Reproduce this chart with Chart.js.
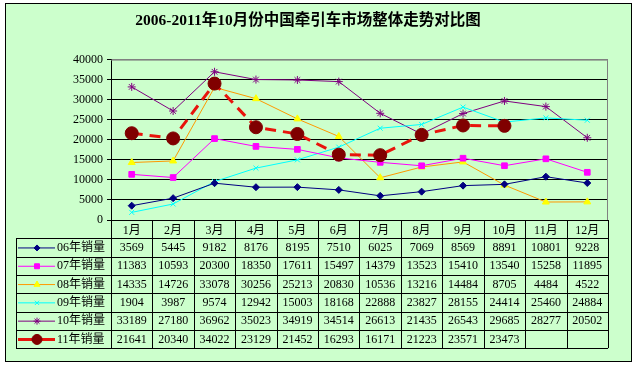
<!DOCTYPE html>
<html>
<head>
<meta charset="utf-8">
<script src="https://cdn.jsdelivr.net/npm/chart.js@4.4.0/dist/chart.umd.min.js"></script>
<style>
  html, body { margin: 0; padding: 0; background: #fff; }
  canvas { display: block; }
</style>
</head>
<body>
<canvas id="salesChart" width="639" height="369"></canvas>
<script>
// ---- данные ----
const months = ['1月', '2月', '3月', '4月', '5月', '6月', '7月', '8月', '9月', '10月', '11月', '12月'];
const seriesNames = ['06年销量', '07年销量', '08年销量', '09年销量', '10年销量', '11年销量'];
const sales06 = [3569, 5445, 9182, 8176, 8195, 7510, 6025, 7069, 8569, 8891, 10801, 9228];
const sales07 = [11383, 10593, 20300, 18350, 17611, 15497, 14379, 13523, 15410, 13540, 15258, 11895];
const sales08 = [14335, 14726, 33078, 30256, 25213, 20830, 10536, 13216, 14484, 8705, 4484, 4522];
const sales09 = [1904, 3987, 9574, 12942, 15003, 18168, 22888, 23827, 28155, 24414, 25460, 24884];
const sales10 = [33189, 27180, 36962, 35023, 34919, 34514, 26613, 21435, 26543, 29685, 28277, 20502];
const sales11 = [21641, 20340, 34022, 23129, 21452, 16293, 16171, 21223, 23571, 23473, null, null];
const yTicks = [0, 5000, 10000, 15000, 20000, 25000, 30000, 35000, 40000];

const TXT_FONT = '12px "Liberation Serif", "Noto Sans CJK SC", serif';

// стили серий
const styles = [
  { line: '#000080', fill: '#000080', point: 'rectRot', r: 3.5, w: 1 },
  { line: '#FF00FF', fill: '#FF00FF', point: 'rect', r: 4, w: 1 },
  { line: '#FF9900', fill: '#FFFF00', point: 'triangle', r: 4, w: 1 },
  { line: '#00FFFF', fill: '#00FFFF', point: 'crossRot', r: 3.5, w: 1 },
  { line: '#800080', fill: '#800080', point: 'star', r: 4, w: 1 },
  { line: '#E8140C', fill: '#800000', point: 'circle', r: 6.5, w: 3, dash: [11, 7] }
];
const allSeries = [sales06, sales07, sales08, sales09, sales10, sales11];

// фон и рамка
const framePlugin = {
  id: 'frame',
  beforeDraw(chart) {
    const c = chart.ctx;
    c.save();
    c.fillStyle = '#ffffff';
    c.fillRect(0, 0, chart.width, chart.height);
    c.fillStyle = '#CCFFCC';
    c.fillRect(5, 3, 627, 359);
    c.strokeStyle = '#000';
    c.lineWidth = 1;
    c.strokeRect(5.5, 3.5, 626, 358);
    c.restore();
  },
  afterDatasetsDraw(chart) {
    // серая рамка области графика сверху/справа
    const a = chart.chartArea, c = chart.ctx;
    c.save();
    c.strokeStyle = '#808080';
    c.lineWidth = 1;
    c.beginPath();
    c.moveTo(a.left, a.top + 0.5);
    c.lineTo(a.right - 0.5, a.top + 0.5);
    c.lineTo(a.right - 0.5, a.bottom);
    c.stroke();
    c.restore();
  }
};

// таблица данных под графиком
const tablePlugin = {
  id: 'dataTable',
  afterDraw(chart) {
    const c = chart.ctx, x = chart.scales.x, a = chart.chartArea;
    const colW = x.getPixelForValue(1) - x.getPixelForValue(0);
    const top = a.bottom, rowH = 18.3;
    const bottom = top + rowH * 7;
    const keyLeft = 16;
    c.save();
    c.strokeStyle = '#000';
    c.lineWidth = 1;
    c.beginPath();
    // вертикальные линии
    for (let i = 0; i <= months.length; i++) {
      const px = Math.round(x.getPixelForValue(0) - colW / 2 + i * colW) + 0.5;
      c.moveTo(px, top);
      c.lineTo(px, bottom);
    }
    c.moveTo(keyLeft + 0.5, top + rowH);
    c.lineTo(keyLeft + 0.5, bottom);
    // горизонтальные линии
    for (let r = 1; r <= 7; r++) {
      const py = Math.round(top + r * rowH) + 0.5;
      c.moveTo(keyLeft, py);
      c.lineTo(a.right, py);
    }
    c.stroke();

    c.font = TXT_FONT;
    c.fillStyle = '#000';
    c.textBaseline = 'middle';
    allSeries.forEach((vals, s) => {
      const cy = top + (s + 1.5) * rowH + 0.5;
      const st = styles[s];
      // ключ легенды
      c.save();
      c.strokeStyle = st.line;
      c.lineWidth = st.w;
      c.beginPath();
      c.moveTo(18, cy);
      c.lineTo(55, cy);
      c.stroke();
      c.fillStyle = st.fill;
      c.strokeStyle = st.fill;
      c.lineWidth = 1;
      Chart.helpers.drawPoint(c, { pointStyle: st.point, radius: s === 5 ? 5 : st.r - 0.5, rotation: 0, borderWidth: 1 }, 37, cy);
      c.restore();
      c.textAlign = 'left';
      c.fillText(seriesNames[s], 57, cy);
      c.textAlign = 'center';
      vals.forEach((v, i) => {
        if (v === null) return;
        c.fillText(String(v), x.getPixelForValue(i), cy);
      });
    });
    c.restore();
  }
};

new Chart(document.getElementById('salesChart').getContext('2d'), {
  type: 'line',
  data: {
    labels: months,
    datasets: allSeries.map((vals, s) => ({
      label: seriesNames[s],
      data: vals,
      borderColor: styles[s].line,
      borderWidth: styles[s].w,
      borderDash: styles[s].dash || [],
      pointStyle: styles[s].point,
      pointRadius: styles[s].r,
      pointBackgroundColor: styles[s].fill,
      pointBorderColor: styles[s].fill,
      pointBorderWidth: 1,
      tension: 0,
      spanGaps: false,
      order: s === 5 ? -1 : s
    }))
  },
  options: {
    responsive: false,
    animation: false,
    events: [],
    layout: { padding: { left: 8, right: 31, top: 0, bottom: 0 } },
    scales: {
      y: {
        min: 0, max: 40000,
        afterBuildTicks: (scale) => { scale.ticks = yTicks.map(v => ({ value: v })); },
        afterFit: (scale) => { scale.width = 103; },
        ticks: {
          color: '#000',
          font: { family: '"Liberation Serif", serif', size: 12 },
          padding: 4,
          callback: (v) => String(v)
        },
        grid: {
          color: (ctx) => ctx.tick && ctx.tick.value === 40000 ? '#808080' : '#000',
          tickColor: '#000',
          tickLength: 4,
          drawOnChartArea: true
        },
        border: { display: true, color: '#000' }
      },
      x: {
        offset: true,
        afterFit: (scale) => { scale.height = 149; },
        ticks: { color: '#000', font: { family: '"Liberation Serif", "Noto Sans CJK SC", serif', size: 12 }, padding: 4, maxRotation: 0, autoSkip: false },
        grid: { display: false, drawTicks: false, offset: true },
        border: { display: true, color: '#000' }
      }
    },
    plugins: {
      legend: { display: false },
      tooltip: { enabled: false },
      title: {
        display: true,
        text: '2006-2011年10月份中国牵引车市场整体走势对比图',
        color: '#000',
        font: { family: '"Liberation Serif", "Noto Sans CJK SC", serif', size: 15.5, weight: 'bold' },
        padding: { top: 12, bottom: 29 }
      }
    }
  },
  plugins: [framePlugin, tablePlugin]
});
</script>
</body>
</html>
